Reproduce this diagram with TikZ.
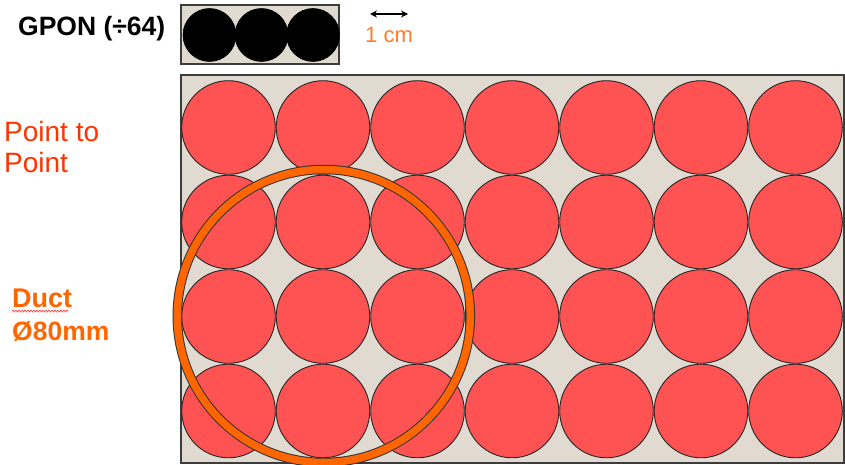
\documentclass[tikz,border=0pt]{standalone}
\usepackage{fontspec}
\setmainfont{Liberation Sans}
\usetikzlibrary{arrows.meta,decorations.pathmorphing}
\definecolor{ductbg}{RGB}{224,218,208}
\definecolor{fibre}{RGB}{255,82,82}
\definecolor{ductorange}{RGB}{255,102,0}
\definecolor{ptpred}{RGB}{255,51,0}
\definecolor{framegray}{RGB}{60,60,60}
\tikzset{
  fibrecirc/.style={fill=fibre,draw=black!85,line width=0.9pt},
  gponcirc/.style={fill=black,draw=black,line width=0.6pt},
  framebox/.style={fill=ductbg,draw=framegray,line width=1.5pt},
  lbl/.style={inner sep=0pt,anchor=base west},
}
\begin{document}
\begin{tikzpicture}[x=1pt,y=-1pt]
\useasboundingbox (0,0) rectangle (845,465);
% GPON box
\draw[framebox] (181,5) rectangle (339,64);
\foreach \cx in {209.5,261.5,313}{
  \fill[gponcirc] (\cx,35) circle (26.5);
}
\node[lbl,font=\bfseries\fontsize{26.5}{30}\selectfont] (gpon) at (18,36) {GPON (÷64)};
% scale arrow
\coordinate (sl) at (370,14);
\coordinate (sr) at (408,14);
\draw[{Stealth[length=7pt,width=7pt]}-{Stealth[length=7pt,width=7pt]},line width=1.1pt] (sl) -- (sr);
\node[lbl,text=ductorange!85,font=\fontsize{22}{26}\selectfont] (cm) at (365,43) {1 cm};
% main duct area
\draw[framebox] (181,75) rectangle (844,463);
\foreach \r/\cy in {1/127.5,2/222,3/316.5,4/411}{
  \foreach \c/\cx in {1/228.5,2/323,3/417.5,4/512,5/606.5,6/701,7/795.5}{
    \draw[fibrecirc] (\cx,\cy) circle (46.8);
  }
}
% duct ring
\draw[black!80,line width=9.5pt] (323.8,316) circle (146.5);
\draw[ductorange,line width=7.5pt] (323.8,316) circle (146.5);
% labels
\node[lbl,text=ptpred,font=\fontsize{28}{30}\selectfont] (p1) at (4,142) {Point to};
\node[lbl,text=ptpred,font=\fontsize{28}{30}\selectfont] (p2) at (4,172) {Point};
\node[lbl,text=ductorange,font=\bfseries\fontsize{27}{30}\selectfont] (duct) at (12,307) {Duct};
\draw[red!80,line width=0.6pt,decorate,decoration={snake,amplitude=1pt,segment length=3pt}] (12,311) -- (68,311);
\node[lbl,text=ductorange,font=\bfseries\fontsize{26.5}{30}\selectfont] (dia) at (12,340) {Ø80mm};
\end{tikzpicture}
\end{document}
